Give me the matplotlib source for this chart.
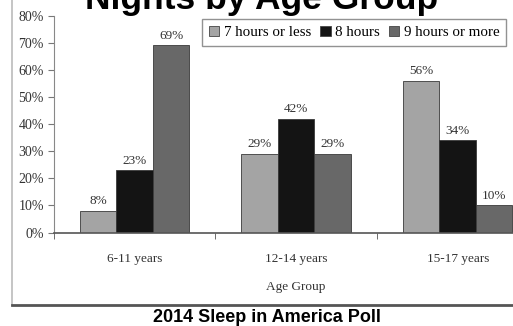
import numpy as np
import matplotlib.pyplot as plt
from matplotlib.lines import Line2D
from matplotlib.patches import Patch

age_groups = ['6-11 years', '12-14 years', '15-17 years']
series = ['7 hours or less', '8 hours', '9 hours or more']
less7 = [8, 29, 56]
eight = [23, 42, 34]
nine_plus = [69, 29, 10]
colors = ['#a4a4a4', '#141414', '#686868']

serif = 'Liberation Serif'

fig = plt.figure(figsize=(5.13, 3.26), dpi=100)
ax = fig.add_axes([0.1047, 0.2868, 0.945, 0.6656])

x = np.arange(len(age_groups))
w = 0.226
for i, (vals, c) in enumerate(zip([less7, eight, nine_plus], colors)):
    pos = x + (i - 1) * w
    ax.bar(pos, vals, width=w, color=c, edgecolor='#3a3a3a', linewidth=0.6)
    for p, v in zip(pos, vals):
        ax.text(p, v + 1.3, f'{v}%', ha='center', va='bottom', fontsize=9.5,
                family=serif, color='#333333')

ax.set_xlim(-0.5, 2.5)
ax.set_ylim(0, 80)
ax.set_yticks(range(0, 81, 10))
ax.set_yticklabels([f'{t}%' for t in range(0, 81, 10)], family=serif,
                   fontsize=10, color='#333333')
ax.set_xticks(x)
ax.set_xticklabels(age_groups, family=serif, fontsize=9.5, color='#333333')
ax.tick_params(axis='x', length=0, pad=15)
ax.set_xticks([-0.5, 0.5, 1.5], minor=True)
ax.tick_params(axis='x', which='minor', length=4, color='#555555')
ax.tick_params(axis='y', length=4, color='#777777', pad=3)
ax.set_xlabel('Age Group', family=serif, fontsize=9.5, color='#333333', labelpad=11)
for s in ['top', 'right']:
    ax.spines[s].set_visible(False)
ax.spines['left'].set_color('#888888')
ax.spines['bottom'].set_color('#555555')
ax.spines['bottom'].set_linewidth(1.2)

handles = [Patch(facecolor=c, edgecolor='#444444', linewidth=0.6) for c in colors]
fig.legend(handles, series, loc='upper left', bbox_to_anchor=(202 / 513, 1 - 19 / 326),
           ncol=3, prop={'family': serif, 'size': 10.8}, frameon=True, fancybox=False,
           edgecolor='#777777', handlelength=0.7, handleheight=0.7,
           handletextpad=0.3, columnspacing=0.6, borderpad=0.45, borderaxespad=0)

# frame lines around chart
fig.add_artist(Line2D([12 / 513, 12 / 513], [0.064, 1], transform=fig.transFigure,
                      color='#bbbbbb', lw=1.2))
fig.add_artist(Line2D([12 / 513, 1], [0.064, 0.064], transform=fig.transFigure,
                      color='#555555', lw=2))

fig.text(261.5 / 513, 1 - 9 / 326, 'Nights by Age Group', ha='center', va='baseline',
         fontsize=25.5, fontweight='bold', family='Liberation Sans')
fig.text(266.5 / 513, 1 - 317 / 326, '2014 Sleep in America Poll', ha='center', va='center',
         fontsize=13, fontweight='bold', family='Liberation Sans')

fig.savefig('out.png', dpi=100)
